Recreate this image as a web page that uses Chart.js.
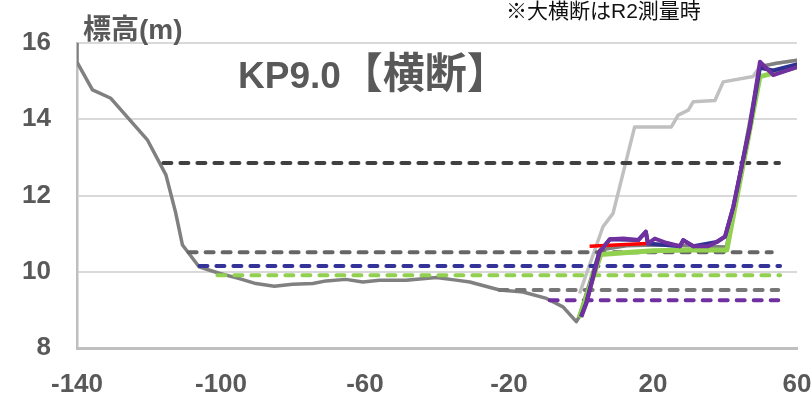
<!DOCTYPE html>
<html lang="ja">
<head>
<meta charset="utf-8">
<title>KP9.0 横断</title>
<script src="https://cdn.jsdelivr.net/npm/chart.js@4.4.1/dist/chart.umd.min.js"></script>
<style>
  body { margin: 0; background: #fff; }
  #wrap { position: relative; width: 812px; height: 394px; }
  .txt { position: absolute; white-space: nowrap; font-family: 'Liberation Sans', Arial, 'Noto Sans CJK JP', sans-serif; }
  #yTitle { left: 83px; top: 16px; font-size: 28px; line-height: 28px; font-weight: bold; color: #595959; }
  #mainTitle { left: 238px; top: 51px; font-size: 37px; line-height: 37px; font-weight: bold; color: #595959; }
  #mainTitle span { font-family: 'Noto Sans CJK JP', sans-serif; font-size: 42px; }
  #surveyNote { left: 506px; top: 0px; font-size: 21px; line-height: 21px; color: #111; }
</style>
</head>
<body>
<div id="wrap">
  <canvas id="sectionChart" width="812" height="394"></canvas>
  <div class="txt" id="yTitle">標高(m)</div>
  <div class="txt" id="mainTitle">KP9.0<span>【横断】</span></div>
  <div class="txt" id="surveyNote">※大横断はR2測量時</div>
</div>
<script>
// axis ticks
const xTicks = [-140, -100, -60, -20, 20, 60];
const yTicks = [8, 10, 12, 14, 16];

// ground profile (dark gray)
const groundX = [-140, -140, -135.7, -130.6, -120.4, -115.3, -112.6, -110.7, -106.1, -100.5, -94.9, -90.3, -85.2, -80.1,
                 -74.5, -70.8, -65.3, -60.6, -56.0, -48.6, -40.2, -34.7, -30.9, -22.6, -16.1, -9.6, -5.0, -1.3,
                 -0.6, 5.2, 12.6, 20.2, 30.0, 40.4, 49.7, 54.3, 60.4];
const groundY = [16.5, 15.5, 14.77, 14.55, 13.45, 12.54, 11.55, 10.70, 10.13, 9.96, 9.82, 9.69, 9.62, 9.67,
                 9.69, 9.76, 9.80, 9.73, 9.78, 9.78, 9.85, 9.78, 9.73, 9.52, 9.47, 9.30, 9.08, 8.69,
                 8.80, 10.57, 10.68, 10.70, 10.68, 10.65, 15.38, 15.47, 15.55];

// R2 large cross-section (light gray)
const r2X = [-0.4, 6.1, 8.9, 14.9, 25.1, 27.0, 29.8, 31.2, 37.2, 39.5, 47.8, 49.7, 54.3, 60.4];
const r2Y = [9.43, 11.18, 11.53, 13.80, 13.80, 14.11, 14.24, 14.46, 14.49, 14.98, 15.12, 15.38, 15.47, 15.55];

// other surveys
const greenX = [-0.5, 5.5, 12.0, 20.0, 30.0, 40.5, 49.7, 60.4];
const greenY = [8.80, 10.45, 10.50, 10.55, 10.57, 10.57, 15.12, 15.38];

const blueX = [0.0, 1.4, 5.1, 8.0, 15.9, 18.0, 18.6, 27.5, 28.4, 31.2, 37.7, 40.0, 42.3, 46.9, 49.7, 53.4, 60.4];
const blueY = [8.82, 9.17, 10.52, 10.85, 10.83, 11.05, 10.74, 10.67, 10.83, 10.67, 10.78, 10.92, 11.70, 13.80,
               15.35, 15.28, 15.45];

const redX = [2.4, 18.2];
const redY = [10.67, 10.74];

const purpleX = [0.1, 1.5, 5.2, 8.0, 11.7, 15.9, 18.0, 18.6, 20.5, 23.7, 27.5, 28.4, 31.2, 35.3, 37.7,
                 40.0, 42.3, 46.9, 49.7, 53.4, 60.4];
const purpleY = [8.82, 9.17, 10.52, 10.85, 10.87, 10.83, 11.05, 10.74, 10.87, 10.76, 10.67, 10.83, 10.67, 10.67, 10.78,
                 10.92, 11.70, 13.80, 15.51, 15.16, 15.38];

// water levels (dashed)
const levelStart = [-116, -109, -106, -101, -22.6, -8.7];
const levelEnd = [55, 53, 55.3, 55.3, 54.8, 54.8];
const levelValue = [12.85, 10.51, 10.15, 9.91, 9.52, 9.25];
const levelColors = ['#404040', '#666666', '#333399', '#92d050', '#777777', '#7030a0'];

const pts = (xs, ys) => xs.map((x, i) => ({ x: x, y: ys[i] }));

function solid(data, color, width) {
  return {
    data: data,
    borderColor: color,
    borderWidth: width,
    showLine: true,
    pointRadius: 0,
    fill: false,
    tension: 0,
    borderJoinStyle: 'round'
  };
}

const datasets = [
  solid(pts(purpleX, purpleY), '#7030a0', 4),
  solid(pts(redX, redY), '#ff0000', 3.5),
  solid(pts(blueX, blueY), '#2e3192', 4),
  solid(pts(greenX, greenY), '#92d050', 5)
];

levelValue.forEach((v, i) => {
  const ds = solid(pts([levelStart[i], levelEnd[i]], [v, v]), levelColors[i], 4);
  ds.borderDash = [8, 9];
  ds.borderCapStyle = 'round';
  datasets.push(ds);
});

datasets.push(solid(pts(groundX, groundY), '#808080', 3.5));
datasets.push(solid(pts(r2X, r2Y), '#c0c0c0', 3.5));

const tickFont = { family: "'Liberation Sans', Arial, sans-serif", size: 26, weight: 'bold' };

new Chart(document.getElementById('sectionChart'), {
  type: 'scatter',
  data: { datasets: datasets },
  options: {
    responsive: false,
    animation: false,
    layout: { padding: { top: 43, right: 15, left: 0, bottom: 0 } },
    plugins: {
      legend: { display: false },
      tooltip: { enabled: false }
    },
    scales: {
      x: {
        type: 'linear',
        min: -140,
        max: 60,
        afterBuildTicks: s => { s.ticks = xTicks.map(v => ({ value: v })); },
        afterFit: s => { s.height = 46; s.paddingLeft = 0; s.paddingRight = 0; },
        grid: { display: false },
        border: { display: true, color: '#bfbfbf', width: 3 },
        ticks: { font: tickFont, color: '#595959', padding: 13, maxRotation: 0, autoSkip: false }
      },
      y: {
        min: 8,
        max: 16,
        afterBuildTicks: s => { s.ticks = yTicks.map(v => ({ value: v })); },
        afterFit: s => { s.width = 77; s.paddingTop = 0; s.paddingBottom = 0; },
        grid: { color: '#d9d9d9', lineWidth: 2, drawTicks: false },
        border: { display: true, color: '#bfbfbf', width: 2.5 },
        ticks: { font: tickFont, color: '#595959', padding: 26 }
      }
    }
  }
});
</script>
</body>
</html>
